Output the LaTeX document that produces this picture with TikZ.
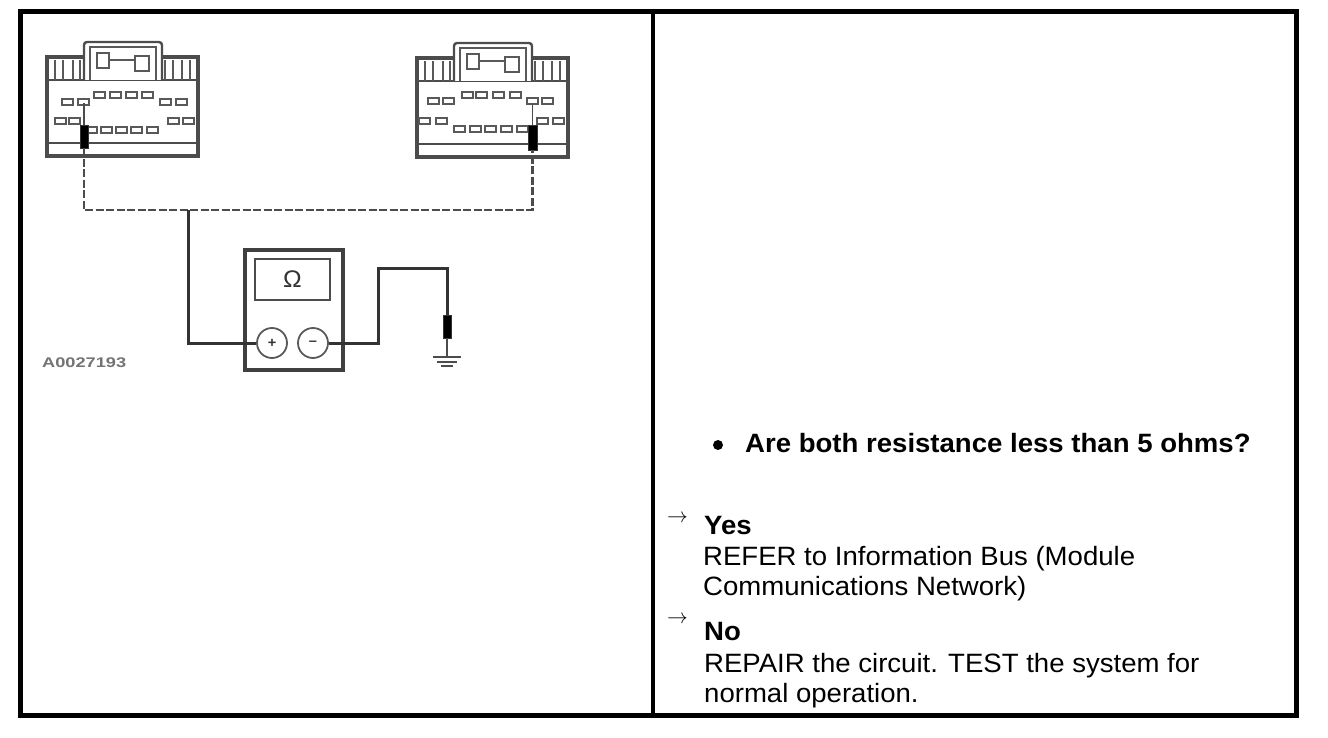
\documentclass[tikz,border=0pt]{standalone}
\usepackage{fontspec}
\setmainfont{Liberation Sans}[FakeStretch=1.04]
\tikzset{
  frame/.style={line width=5pt},
  wire/.style={line width=3pt, draw=black!80},
  dwire/.style={line width=2.2pt, draw=black!70, dash pattern=on 8pt off 2.5pt},
  conn/.style={line width=2.4pt, draw=black!70},
  pinbox/.style={line width=1.4pt, draw=black!65},
  probebox/.style={fill=black, draw=black!80, inner sep=0},
  bodytxt/.style={font=\fontsize{26.5}{31}\selectfont, anchor=base west, inner sep=0},
  boldtxt/.style={font=\fontsize{26.5}{31}\selectfont\bfseries, anchor=base west, inner sep=0},
  arrtxt/.style={font=\fontsize{21}{24}\selectfont, anchor=base west, inner sep=0},
}
\newcommand\connframe[1]{%
  \begin{scope}[shift={#1}]
    \draw[conn, line width=3.2pt] (0,0) rectangle (151,99);
    \draw[conn] (0,23) -- (151,23);
    \draw[conn] (0,86) -- (151,86);
    \foreach \rx in {8,16,26,33,118,126,135,143}
      \draw[pinbox] (\rx,3) -- (\rx,23);
    \draw[conn, rounded corners=3pt, fill=white] (37,23) -- (37,-15) -- (115,-15) -- (115,23);
    \draw[pinbox] (43,23) -- (43,-10) -- (109,-10) -- (109,23);
    \draw[pinbox] (50,-4) rectangle (62,11);
    \draw[pinbox] (62,3) -- (88,3);
    \draw[pinbox] (88,-1) rectangle (102,14);
  \end{scope}}
\begin{document}
\begin{tikzpicture}[x=1pt,y=-1pt]
\useasboundingbox (0,0) rectangle (1328,738);
% table frame
\draw[frame] (20.5,12) rectangle (1296,715.5);
\draw[line width=4.5pt] (653,12) -- (653,715.5);

% connectors
\connframe{(47,57)}
\connframe{(417,58)}
\foreach \px/\py in {62/99,78/99,94/92,110/92,126/92,142/92,160/99,176/99,
                     55/118,69/118,86/127,101/127,116/127,131/127,147/127,168/118,183/118,
                     428/98,443/98,462/92,476/92,493/92,510/92,527/98,542/98,
                     419/118,436/118,454/126,470/126,485/126,501/126,517/126,537/118,553/118}
  \draw[pinbox] (\px,\py) rectangle ++(11,6);

% probes
\node[probebox, minimum width=8pt, minimum height=23pt] (lprobe) at (84,136.5) {};
\node[probebox, minimum width=9pt, minimum height=25pt] (rprobe) at (532.5,137.5) {};
\coordinate (lpin) at (84,103);
\coordinate (rpin) at (532.5,104);
\draw[conn, line width=1.8pt] (lpin) -- (lprobe.north);
\draw[conn, line width=1.8pt] (rpin) -- (rprobe.north);

% dashed harness
\coordinate (lcorner) at (84,210);
\coordinate (rcorner) at (532.5,210);
\coordinate (junc) at (188,210);
\draw[dwire] (lprobe.south) -- (lcorner) -- (rcorner) -- (rprobe.south);

% meter
\node[draw=black!75, line width=3.5pt, minimum width=98pt, minimum height=120pt, inner sep=0] (meter) at (294,310) {};
\node[draw=black!70, line width=2.2pt, minimum width=75pt, minimum height=41pt, inner sep=0,
      font=\fontsize{24}{28}\selectfont, text=black!80] (disp) at (292.5,279.5) {Ω};
\node[circle, draw=black!65, line width=1.8pt, minimum size=30pt, inner sep=0,
      font=\fontsize{14}{16}\selectfont\bfseries, text=black!80] (tplus) at (272,343) {+};
\node[circle, draw=black!65, line width=1.8pt, minimum size=30pt, inner sep=0,
      font=\fontsize{14}{16}\selectfont\bfseries, text=black!80] (tminus) at (313,343) {–};

% wires
\draw[wire] (junc) |- (tplus.west);
\coordinate (bend) at (378,268);
\node[probebox, minimum width=8pt, minimum height=23pt] (gprobe) at (447,326.5) {};
\draw[wire] (tminus.east) -| (bend) -| (gprobe.north);
\coordinate (gnd) at (447,357);
\draw[conn, line width=2pt] (gprobe.south) -- (gnd);
\draw[conn, line width=2pt] (gnd) ++(-14,0) -- ++(28,0);
\draw[conn, line width=2pt] (gnd) ++(-10,4.5) -- ++(20,0);
\draw[conn, line width=2pt] (gnd) ++(-6,9) -- ++(12,0);

% figure label
\node[font=\fontsize{14}{16}\selectfont\bfseries, text=black!55, anchor=west, inner sep=0] (figlabel) at (42,363) {\scalebox{1.25}[1]{A0027193}};

% right-hand text
\node[circle, fill, inner sep=0, minimum size=10pt] (bullet) at (718,445) {};
\node[boldtxt] (question) at (745,452) {Are both resistance less than 5 ohms?};
\node[arrtxt] (arryes) at (667,522) {$\rightarrow$};
\node[boldtxt] (yes) at (704,534) {Yes};
\node[bodytxt] (yes1) at (703,565) {REFER to Information Bus (Module};
\node[bodytxt] (yes2) at (703,595) {Communications Network)};
\node[arrtxt] (arrno) at (667,623) {$\rightarrow$};
\node[boldtxt] (no) at (704,640) {No};
\node[bodytxt] (no1) at (704,672) {REPAIR the circuit. TEST the system for};
\node[bodytxt] (no2) at (704,702) {normal operation.};
\end{tikzpicture}
\end{document}
